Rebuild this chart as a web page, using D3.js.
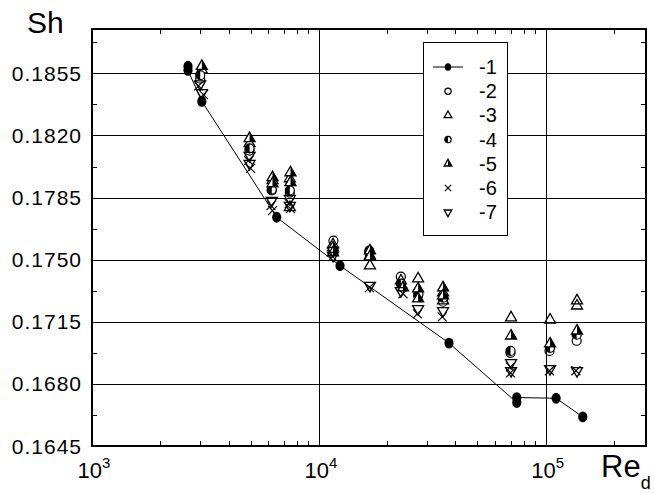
<!DOCTYPE html>
<html>
<head>
<meta charset="utf-8">
<script src="https://cdn.jsdelivr.net/npm/d3@7"></script>
<style>
  body { margin: 0; background: #fff; }
  text { font-family: "Liberation Sans", Arial, sans-serif; fill: #000; }
</style>
</head>
<body>
<script>
// Series 1 (filled circles joined by a line)
const re1 = [2650, 2650, 3050, 6520, 12400, 37500, 74600, 74600, 111200, 145800];
const sh1 = [0.1859, 0.18567, 0.18392, 0.17739, 0.17466, 0.17030, 0.16695, 0.16723, 0.16719, 0.16614];
// Series 2 (open circles)
const re2 = [3000, 4950, 6200, 7450, 11600, 16700, 23000, 27400, 35300, 70000, 104000, 137000];
const sh2 = [0.1852, 0.18115, 0.1789, 0.17878, 0.17607, 0.1754, 0.17404, 0.17297, 0.17263, 0.16975, 0.16986, 0.17043];
// Series 3 (open triangles)
const re3 = [3050, 4950, 6250, 7450, 7450, 11550, 16800, 16800, 23000, 27400, 35300, 35300, 70400, 104600, 137500, 137500];
const sh3 = [0.1857, 0.18155, 0.17946, 0.17957, 0.17794, 0.17585, 0.17523, 0.17466, 0.17381, 0.17393, 0.17314, 0.17269, 0.17173, 0.17161, 0.17269, 0.1724];
// Series 4 (half filled circles)
const re4 = [3000, 4950, 6200, 7450, 11600, 16700, 23000, 27500, 35300, 70000, 104500, 137000];
const sh4 = [0.1854, 0.18127, 0.17895, 0.1789, 0.17551, 0.17551, 0.17365, 0.17308, 0.17286, 0.16986, 0.17003, 0.17077];
// Series 5 (half filled triangles)
const re5 = [3050, 4950, 6250, 6250, 7500, 7500, 11550, 11550, 16800, 16800, 23500, 27400, 27400, 35300, 35300, 70400, 104600, 137500];
const sh5 = [0.1859, 0.18183, 0.17963, 0.17929, 0.17991, 0.17935, 0.17568, 0.1754, 0.17551, 0.17517, 0.17342, 0.17336, 0.1728, 0.17342, 0.17297, 0.17071, 0.17026, 0.17099];
// Series 6 (crosses)
const re6 = [2950, 3100, 4900, 5000, 6150, 6250, 7400, 7500, 11500, 16700, 23500, 27200, 35000, 70000, 70000, 104000, 136000];
const sh6 = [0.1848, 0.1843, 0.18059, 0.18014, 0.17805, 0.17777, 0.17816, 0.17788, 0.17517, 0.17343, 0.17308, 0.17195, 0.17178, 0.16896, 0.16862, 0.16874, 0.16874];
// Series 7 (open down triangles)
const re7 = [3000, 3050, 4950, 4950, 6200, 7450, 7450, 11550, 11550, 16800, 23000, 27400, 35300, 70400, 70400, 104600, 137500];
const sh7 = [0.1849, 0.1844, 0.18087, 0.18042, 0.17833, 0.17844, 0.17805, 0.17551, 0.17523, 0.17354, 0.17325, 0.17223, 0.17212, 0.16919, 0.16874, 0.16885, 0.16874];

const legendLabels = ["-1", "-2", "-3", "-4", "-5", "-6", "-7"];
const yTicks = [0.1645, 0.1680, 0.1715, 0.1750, 0.1785, 0.1820, 0.1855];
const xTicks = [1e3, 1e4, 1e5];

const width = 655, height = 493;
const pl = 92, pr = 646, pt = 29, pb = 446;

const svg = d3.select("body").append("svg")
    .attr("width", width)
    .attr("height", height)
    .style("background", "#fff");

const x = d3.scaleLog().domain([1e3, 2.77e5]).range([pl, pr]);
const y = d3.scaleLinear().domain([0.1645, 0.188]).range([pb, pt]);

// grid lines
svg.append("g").selectAll("line")
    .data(yTicks.slice(1))
    .join("line")
    .attr("x1", pl).attr("x2", pr)
    .attr("y1", d => Math.round(y(d)) + 0.5).attr("y2", d => Math.round(y(d)) + 0.5)
    .attr("stroke", "#000").attr("stroke-width", 1);
svg.append("g").selectAll("line")
    .data(xTicks.slice(1))
    .join("line")
    .attr("x1", d => Math.round(x(d)) + 0.5).attr("x2", d => Math.round(x(d)) + 0.5)
    .attr("y1", pt).attr("y2", pb)
    .attr("stroke", "#000").attr("stroke-width", 1);

// minor ticks
const xMinor = [];
[1e3, 1e4, 1e5].forEach(b => { for (let k = 2; k <= 9; k++) if (b * k < 2.77e5) xMinor.push(b * k); });
const yMinor = yTicks.map(d => d + 0.00175);

const ticks = svg.append("g").attr("stroke", "#000").attr("stroke-width", 1);
xMinor.forEach(d => {
    const px = Math.round(x(d)) + 0.5;
    ticks.append("line").attr("x1", px).attr("x2", px).attr("y1", pb).attr("y2", pb - 5);
    ticks.append("line").attr("x1", px).attr("x2", px).attr("y1", pt).attr("y2", pt + 5);
});
yMinor.forEach(d => {
    const py = Math.round(y(d)) + 0.5;
    ticks.append("line").attr("x1", pl).attr("x2", pl + 5).attr("y1", py).attr("y2", py);
    ticks.append("line").attr("x1", pr).attr("x2", pr - 5).attr("y1", py).attr("y2", py);
});

// frame
svg.append("rect")
    .attr("x", pl).attr("y", pt)
    .attr("width", pr - pl).attr("height", pb - pt)
    .attr("fill", "none").attr("stroke", "#000").attr("stroke-width", 2);

// y tick labels
svg.append("g").selectAll("text")
    .data(yTicks)
    .join("text")
    .attr("x", 82)
    .attr("y", d => y(d) + 7.5)
    .attr("text-anchor", "end")
    .style("font-size", "21px")
    .style("letter-spacing", "1px")
    .text(d3.format(".4f"));

// x tick labels 10^n
const xl = svg.append("g").selectAll("text")
    .data(xTicks)
    .join("text")
    .attr("x", d => x(d) + 2)
    .attr("y", 478)
    .attr("text-anchor", "middle")
    .style("font-size", "22px");
xl.append("tspan").text("10");
xl.append("tspan").attr("dy", -10).style("font-size", "15px").text(d => Math.round(Math.log10(d)));

// axis titles
svg.append("text").attr("x", 27).attr("y", 33).style("font-size", "30px").text("Sh");
const re = svg.append("text").attr("x", 601).attr("y", 477).style("font-size", "31px");
re.append("tspan").text("Re");
re.append("tspan").attr("dy", 12).style("font-size", "18px").text("d");

// marker shapes
function triUp(s) {
    const h = s * 0.866;
    return `M0,${-2 * h / 3}L${s / 2},${h / 3}L${-s / 2},${h / 3}Z`;
}
function triRightHalf(s) {
    const h = s * 0.866;
    return `M0,${-2 * h / 3}L${s / 2},${h / 3}L0,${h / 3}Z`;
}
function triDown(s) {
    const h = s * 0.866;
    return `M0,${2 * h / 3}L${s / 2},${-h / 3}L${-s / 2},${-h / 3}Z`;
}
function drawMarker(g, kind, k) {
    // k scales marker size (1 for plot, smaller for legend)
    if (kind === 1) {
        g.append("ellipse").attr("rx", 4.6 * k).attr("ry", 5.4 * k).attr("fill", "#000");
    } else if (kind === 2) {
        g.append("circle").attr("r", 4.5 * k).attr("fill", "none").attr("stroke", "#000").attr("stroke-width", 1.2);
    } else if (kind === 3) {
        g.append("path").attr("d", triUp(11 * k)).attr("fill", "none").attr("stroke", "#000").attr("stroke-width", 1.3);
    } else if (kind === 4) {
        const r = 4.5 * k;
        g.append("circle").attr("r", r).attr("fill", "#fff").attr("stroke", "#000").attr("stroke-width", 1.2);
        g.append("path").attr("d", `M0,${-r}A${r},${r} 0 0,0 0,${r}Z`).attr("fill", "#000");
    } else if (kind === 5) {
        g.append("path").attr("d", triUp(11 * k)).attr("fill", "#fff").attr("stroke", "#000").attr("stroke-width", 1.3);
        g.append("path").attr("d", triRightHalf(11 * k)).attr("fill", "#000");
    } else if (kind === 6) {
        const a = 4.5 * k;
        g.append("path").attr("d", `M${-a},${-a}L${a},${a}M${-a},${a}L${a},${-a}`)
            .attr("stroke", "#000").attr("stroke-width", 1.1).attr("fill", "none");
    } else if (kind === 7) {
        g.append("path").attr("d", triDown(11 * k)).attr("fill", "none").attr("stroke", "#000").attr("stroke-width", 1.3);
    }
}

// series 1 line
const pts1 = re1.map((d, i) => [x(d), y(sh1[i])]);
svg.append("path")
    .attr("d", d3.line()(pts1))
    .attr("fill", "none").attr("stroke", "#000").attr("stroke-width", 1);

const series = [
    [1, re1, sh1], [2, re2, sh2], [3, re3, sh3], [4, re4, sh4],
    [5, re5, sh5], [7, re7, sh7], [6, re6, sh6]
];
series.forEach(([kind, xs, ys]) => {
    const g = svg.append("g");
    xs.forEach((d, i) => {
        const m = g.append("g").attr("transform", `translate(${x(d)},${y(ys[i])})`);
        drawMarker(m, kind, 1);
    });
});

// legend
const lg = svg.append("g");
lg.append("rect")
    .attr("x", 423.5).attr("y", 42.5).attr("width", 84).attr("height", 193)
    .attr("fill", "#fff").attr("stroke", "#000").attr("stroke-width", 1);
legendLabels.forEach((lab, i) => {
    const ly = 67 + i * 24.2;
    if (i === 0) {
        lg.append("line").attr("x1", 433).attr("x2", 463).attr("y1", ly).attr("y2", ly)
            .attr("stroke", "#000").attr("stroke-width", 1);
    }
    const m = lg.append("g").attr("transform", `translate(448,${ly})`);
    drawMarker(m, i + 1, 0.7);
    lg.append("text").attr("x", 479).attr("y", ly + 7).style("font-size", "20px").text(lab);
});
</script>
</body>
</html>
